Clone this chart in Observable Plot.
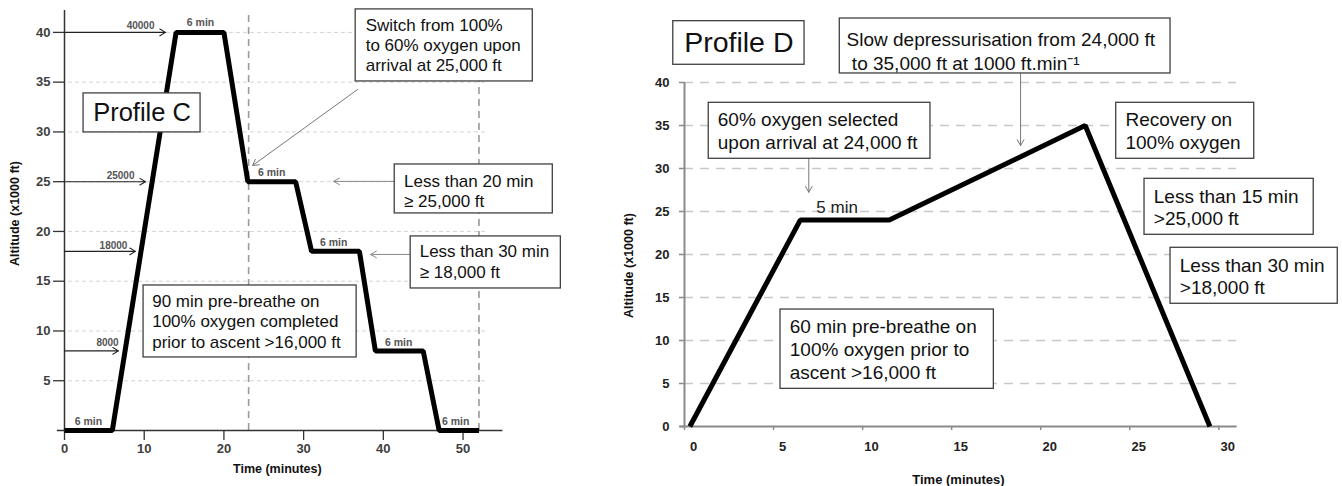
<!DOCTYPE html>
<html><head><meta charset="utf-8">
<script src="https://cdn.jsdelivr.net/npm/d3@7"></script>
<script src="https://cdn.jsdelivr.net/npm/@observablehq/plot@0.6"></script>
<style>
html,body{margin:0;padding:0;background:#fff;width:1342px;height:486px;overflow:hidden}
#wrap{position:relative;width:1342px;height:486px}
#wrap svg{position:absolute;left:0;top:0}
</style></head><body><div id="wrap"></div>
<script>
// ---------- Profile C data ----------
const cTime = [0, 6, 14, 20, 23, 29, 31, 37, 39, 45, 47, 52];
const cAlt  = [0, 0, 40, 40, 25, 25, 18, 18, 8, 8, 0, 0];
const cXTicks = [0, 10, 20, 30, 40, 50];
const cYTicks = [5, 10, 15, 20, 25, 30, 35, 40];
const cMarkerAlt = [40, 25, 18, 8];
const cMarkerText = ["40000", "25000", "18000", "8000"];
const cStageText = "6 min";
const cLimitTimes = [23.1, 52];
const cTitle = "Profile C";
const cSwitch = ["Switch from 100%", "to 60% oxygen upon", "arrival at 25,000 ft"];
const cLess20 = ["Less than 20 min", "\u2265 25,000 ft"];
const cLess30 = ["Less than 30 min", "\u2265 18,000 ft"];
const cPre = ["90 min pre-breathe on", "100% oxygen completed", "prior to ascent >16,000 ft"];

// ---------- Profile D data ----------
const dTime = [0.3, 6.5, 11.5, 22.5, 29.5];
const dAlt  = [0, 24, 24, 35, 0];
const dXTicks = [0, 5, 10, 15, 20, 25, 30];
const dYTicks = [0, 5, 10, 15, 20, 25, 30, 35, 40];
const dTitle = "Profile D";
const dSlow = ["Slow depressurisation from 24,000 ft", " to 35,000 ft at 1000 ft.min\u207B\u00B9"];
const dSel = ["60% oxygen selected", "upon arrival at 24,000 ft"];
const dPlateau = "5 min";
const dRecovery = ["Recovery on", "100% oxygen"];
const dLess15 = ["Less than 15 min", ">25,000 ft"];
const dLess30 = ["Less than 30 min", ">18,000 ft"];
const dPre = ["60 min pre-breathe on", "100% oxygen prior to", "ascent >16,000 ft"];

const xTitle = "Time (minutes)";
const yTitle = "Altitude (x1000 ft)";

const FONT = "'Liberation Sans', Arial, sans-serif";
const wrap = document.getElementById("wrap");

function box(x1, x2, y1, y2, opts = {}) {
  return Plot.rect([0], {x1: () => x1, x2: () => x2, y1: () => y1, y2: () => y2,
    fill: "white", stroke: "#404040", strokeWidth: 1.3, ...opts});
}
function lines(arr, x, y0, step, opts = {}) {
  return Plot.text(arr, {x: () => x, y: (d, i) => y0 - i * step, text: d => d,
    textAnchor: "start", fill: "#111", ...opts});
}

// ---------- Left panel ----------
const cIdx = cTime.map((_, i) => i);
const cArrowEnd = [12.68, 10.17, 8.91, 6.78];
const cLabelX = [9.54, 7.03, 6.15, 5.4];
const cLabelDy = [0.7, 0.63, 0.6, 0.84];
const markerRows = cMarkerAlt.map((a, i) => ({a, t: cMarkerText[i], xe: cArrowEnd[i], xl: cLabelX[i], yl: a + cLabelDy[i]}));
const stagePos = [[3.0, 0.9], [17.07, 41.0], [25.99, 25.93], [33.77, 18.92], [41.93, 8.84], [49.08, 0.9]];

const left = Plot.plot({
  width: 1342, height: 486,
  marginLeft: 64, marginRight: 839.6, marginTop: 10, marginBottom: 56,
  x: {domain: [0, 55]}, y: {domain: [0, 42.2]},
  style: {background: "transparent", overflow: "visible", fontFamily: FONT},
  marks: [
    Plot.ruleY(cYTicks, {x1: () => 0.5, x2: () => 53, stroke: "#d4d4d4", strokeDasharray: "4,3", strokeWidth: 1}),
    Plot.ruleX(cLimitTimes, {y1: () => 0, y2: () => 42.2, stroke: "#9a9a9a", strokeWidth: 1.6, strokeDasharray: "7,5"}),
    Plot.ruleX([0], {y1: () => 0, y2: () => 42.2, stroke: "#333", strokeWidth: 1.5}),
    Plot.ruleY([0], {x1: () => -0.9, x2: () => 55, stroke: "#333", strokeWidth: 1.5}),
    Plot.axisX(cXTicks, {tickSize: 10, tickPadding: 3.7, fontSize: 13, fontWeight: "bold", fill: "#404040", stroke: "#333", strokeWidth: 1.3, label: null}),
    Plot.axisY(cYTicks, {tickSize: 11, tickPadding: 3, fontSize: 13, fontWeight: "bold", fill: "#404040", stroke: "#333", strokeWidth: 1.3, label: null}),
    Plot.arrow(markerRows, {x1: () => 0, y1: "a", x2: "xe", y2: "a", stroke: "#222", strokeWidth: 1.1, headLength: 9}),
    Plot.text(markerRows, {x: "xl", y: "yl", text: "t", fontSize: 10, fontWeight: "bold", fill: "#555"}),
    Plot.text(stagePos, {x: d => d[0], y: d => d[1], text: () => cStageText, fontSize: 10.5, fontWeight: "bold", fill: "#555"}),
    Plot.line(cIdx, {x: i => cTime[i], y: i => cAlt[i], stroke: "#000", strokeWidth: 5, strokeLinejoin: "miter", strokeLinecap: "butt"}),
    // Profile C title box
    box(2.39, 17.07, 33.87, 29.95),
    Plot.text([cTitle], {x: () => 9.73, y: () => 31.9, text: d => d, fontSize: 25.5, fill: "#111"}),
    // Switch box + arrow
    Plot.arrow([0], {x1: () => 36.78, y1: () => 34.27, x2: () => 23.6, y2: () => 26.63, stroke: "#777", strokeWidth: 1, headLength: 10}),
    box(36.53, 58.75, 42.31, 35.07),
    lines(cSwitch, 37.79, 40.7, 2.01, {fontSize: 17}),
    // Less than 20
    Plot.arrow([0], {x1: () => 41.43, y1: () => 25.03, x2: () => 33.77, y2: () => 25.03, stroke: "#888", strokeWidth: 1, headLength: 10}),
    box(41.43, 61.26, 26.73, 21.81),
    lines(cLess20, 42.6, 25.03, 2.01, {fontSize: 17}),
    // Less than 30
    Plot.arrow([0], {x1: () => 43.43, y1: () => 17.69, x2: () => 38.41, y2: () => 17.69, stroke: "#888", strokeWidth: 1, headLength: 10}),
    box(43.43, 62.27, 19.5, 14.27),
    lines(cLess30, 44.56, 17.99, 2.1, {fontSize: 17}),
    // Pre-breathe
    box(9.92, 36.65, 14.57, 7.34),
    lines(cPre, 11.0, 12.96, 2.05, {fontSize: 17}),
    // axis titles
    Plot.text([xTitle], {x: () => 26.7, y: () => -3.82, text: d => d, fontSize: 12.5, fontWeight: "bold", fill: "#111"}),
    Plot.text([yTitle], {x: () => -6.15, y: () => 21.8, text: d => d, rotate: -90, fontSize: 12.5, fontWeight: "bold", fill: "#111"})
  ]
});
wrap.appendChild(left);

// ---------- Right panel ----------
const dIdx = dTime.map((_, i) => i);
const right = Plot.plot({
  width: 1342, height: 486,
  marginLeft: 684, marginRight: 105.9, marginTop: 82, marginBottom: 60,
  x: {domain: [0, 31]}, y: {domain: [0, 40]},
  style: {background: "transparent", overflow: "visible", fontFamily: FONT},
  marks: [
    Plot.ruleY(dYTicks.filter(v => v > 0), {x1: () => 0, x2: () => 31, stroke: "#c8c8c8", strokeDasharray: "9,7", strokeWidth: 1.4}),
    Plot.ruleX([0], {y1: () => 0, y2: () => 40, stroke: "#8a8a8a", strokeWidth: 2}),
    Plot.ruleY([0], {x1: () => -0.25, x2: () => 31.03, stroke: "#8a8a8a", strokeWidth: 2}),
    Plot.axisX(dXTicks, {tickSize: 4, fill: "none", stroke: "#8a8a8a", strokeWidth: 1.5, label: null}),
    Plot.axisX(dXTicks, {tickSize: 0, tickPadding: 15.4, dx: 9, fontSize: 13, fontWeight: "bold", fill: "#222", label: null}),
    Plot.axisY(dYTicks, {tickSize: 5, tickPadding: 10, fontSize: 13, fontWeight: "bold", fill: "#222", stroke: "#8a8a8a", strokeWidth: 1.5, label: null}),
    Plot.line(dIdx, {x: i => dTime[i], y: i => dAlt[i], stroke: "#000", strokeWidth: 5, strokeLinejoin: "miter", strokeLinecap: "butt"}),
    Plot.text([dPlateau], {x: () => 8.57, y: () => 25.47, text: d => d, fontSize: 17, fill: "#222"}),
    // Profile D title
    box(-0.63, 6.74, 47.13, 42.06),
    Plot.text([dTitle], {x: () => 3.05, y: () => 44.59, text: d => d, fontSize: 28.5, fill: "#111"}),
    // Slow depressurisation
    Plot.arrow([0], {x1: () => 18.87, y1: () => 41.05, x2: () => 18.87, y2: () => 32.67, stroke: "#777", strokeWidth: 1, headLength: 10}),
    box(8.72, 27.29, 47.44, 41.05),
    lines(dSlow, 9.10, 44.97, 2.8, {fontSize: 19}),
    // 60% oxygen selected
    Plot.arrow([0], {x1: () => 6.98, y1: () => 31.13, x2: () => 6.98, y2: () => 27.24, stroke: "#777", strokeWidth: 1, headLength: 10}),
    box(1.36, 13.81, 37.64, 31.13),
    lines(dSel, 1.87, 35.66, 2.72, {fontSize: 19}),
    // Recovery
    box(24.24, 31.99, 37.64, 31.13),
    lines(dRecovery, 24.76, 35.66, 2.72, {fontSize: 19}),
    // Less than 15
    box(25.83, 35.33, 28.8, 22.29),
    lines(dLess15, 26.35, 26.74, 2.6, {fontSize: 19}),
    // Less than 30
    box(27.29, 36.68, 20.78, 14.27),
    lines(dLess30, 27.81, 18.72, 2.64, {fontSize: 19}),
    // Pre-breathe
    box(5.39, 17.37, 13.6, 4.38),
    lines(dPre, 5.91, 11.63, 2.7, {fontSize: 19}),
    // axis titles
    Plot.text([xTitle], {x: () => 15.38, y: () => -6.16, text: d => d, fontSize: 13, fontWeight: "bold", fill: "#111"}),
    Plot.text([yTitle], {x: () => -3.14, y: () => 18.72, text: d => d, rotate: -90, fontSize: 12.5, fontWeight: "bold", fill: "#111"})
  ]
});
wrap.appendChild(right);
</script>
</body></html>
